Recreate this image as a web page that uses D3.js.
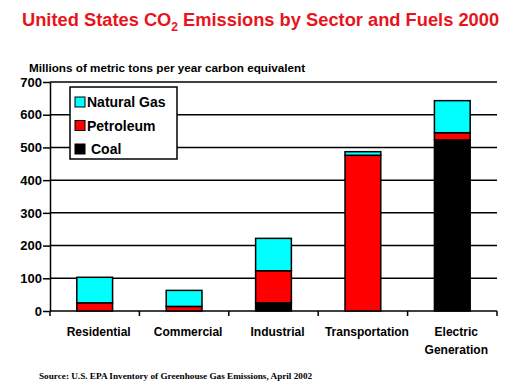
<!DOCTYPE html>
<html><head><meta charset="utf-8">
<script src="https://cdn.jsdelivr.net/npm/d3@7"></script>
<style>
html,body{margin:0;padding:0;background:#fff;}
svg{display:block;}
</style></head>
<body>
<svg id="chart" width="518" height="381" font-family="Liberation Sans, Arial, sans-serif"></svg>
<script>
const sectors = ["Residential","Commercial","Industrial","Transportation","Electric Generation"];
const coal = [0, 0, 25, 0, 523];
const petroleum = [25, 14, 98, 476, 22];
const naturalGas = [78, 49, 99, 11, 98];
const yTicks = [0,100,200,300,400,500,600,700];
const fuels = ["Coal","Petroleum","Natural Gas"];
const colors = {"Coal":"#000000","Petroleum":"#ff0000","Natural Gas":"#00ffff"};
const legendOrder = ["Natural Gas","Petroleum","Coal"];

const svg = d3.select("#chart");
const mLeft = 50, mRight = 497, mTop = 82, mBottom = 311;

const x = d3.scaleBand().domain(sectors).range([mLeft,mRight]).paddingInner(0.6).paddingOuter(0.3);
const y = d3.scaleLinear().domain([0,700]).range([mBottom,mTop]);

// title
const title = svg.append("text").attr("x",22).attr("y",26)
  .attr("fill","#e8141c").attr("font-weight","bold").attr("font-size",18.3);
title.append("tspan").text("United States CO");
title.append("tspan").text("2").attr("font-size",12).attr("dy",5);
title.append("tspan").text(" Emissions by Sector and Fuels 2000").attr("dy",-5);

svg.append("text").attr("x",29).attr("y",72).attr("font-weight","bold").attr("font-size",11.7)
  .text("Millions of metric tons per year carbon equivalent");

// gridlines
svg.append("g").selectAll("line").data(yTicks.filter(d=>d>0)).join("line")
  .attr("x1",mLeft).attr("x2",mRight).attr("y1",d=>y(d)).attr("y2",d=>y(d))
  .attr("stroke","#000").attr("stroke-width",1.5);

// y axis
const yAxis = svg.append("g").attr("transform",`translate(${mLeft},0)`)
  .call(d3.axisLeft(y).tickValues(yTicks).tickSize(7).tickPadding(1).tickSizeOuter(0));
yAxis.attr("font-family",null).attr("font-size",null);
yAxis.select(".domain").attr("stroke-width",1.5);
yAxis.selectAll(".tick line").attr("stroke-width",1.5);
yAxis.selectAll(".tick text").attr("font-size",13).attr("font-weight","bold").attr("fill","#000");

// x axis
const boundaries = sectors.map(s=>x(s)-x.step()*x.paddingInner()/2).concat([mRight]);
svg.append("line").attr("x1",mLeft).attr("x2",mRight).attr("y1",mBottom).attr("y2",mBottom)
  .attr("stroke","#000").attr("stroke-width",1.5);
svg.append("g").selectAll("line").data(boundaries).join("line")
  .attr("x1",d=>d).attr("x2",d=>d).attr("y1",mBottom).attr("y2",mBottom+5)
  .attr("stroke","#000").attr("stroke-width",1.5);

const xl = svg.append("g").selectAll("text").data(sectors).join("text")
  .attr("text-anchor","middle").attr("font-weight","bold").attr("font-size",12)
  .attr("y",336);
xl.each(function(d){
  const words = d === "Electric Generation" ? ["Electric","Generation"] : [d];
  const t = d3.select(this);
  words.forEach((w,i)=>t.append("tspan").attr("x",x(d)+x.bandwidth()/2+4).attr("dy",i?18:0).text(w));
});

// stacked bars
const rows = sectors.map((s,i)=>({sector:s,"Coal":coal[i],"Petroleum":petroleum[i],"Natural Gas":naturalGas[i]}));
const series = d3.stack().keys(fuels)(rows);
svg.append("g").selectAll("g").data(series).join("g").attr("fill",d=>colors[d.key])
  .selectAll("rect").data(d=>d.filter(p=>p[1]-p[0]>0)).join("rect")
  .attr("x",d=>x(d.data.sector)).attr("width",x.bandwidth())
  .attr("y",d=>y(d[1])).attr("height",d=>y(d[0])-y(d[1]))
  .attr("stroke","#000").attr("stroke-width",1.5);

// legend
const lg = svg.append("g");
lg.append("rect").attr("x",70).attr("y",87).attr("width",107).attr("height",72)
  .attr("fill","#fff").attr("stroke","#000").attr("stroke-width",1.5);
legendOrder.forEach((k,i)=>{
  const cy = 102 + i*23.5;
  lg.append("rect").attr("x",75).attr("y",cy-5).attr("width",10).attr("height",10)
    .attr("fill",colors[k]).attr("stroke","#000").attr("stroke-width",1);
  lg.append("text").attr("x",k==="Coal"?91:87).attr("y",cy+5).attr("font-size",14)
    .attr("font-weight","bold").text(k);
});

// source
svg.append("text").attr("x",39).attr("y",379).attr("font-family","Liberation Serif, Times New Roman, serif")
  .attr("font-weight","bold").attr("font-size",9.2)
  .text("Source: U.S. EPA Inventory of Greenhouse Gas Emissions, April 2002");
</script>
</body></html>
